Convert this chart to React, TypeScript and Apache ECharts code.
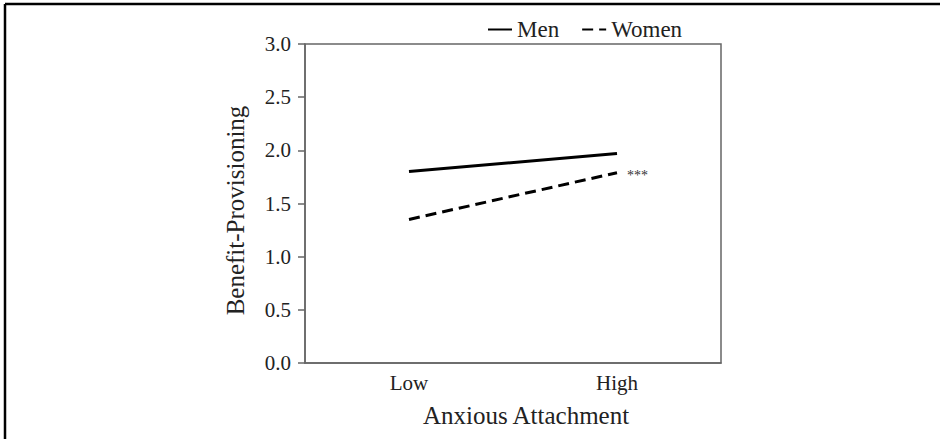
import React, { useEffect, useRef } from "react";
import * as echarts from "echarts";

const categories = ["Low", "High"];
const menValues = [1.8, 1.97];
const womenValues = [1.35, 1.79];
const seriesNames = ["Men", "Women"];
const yTicks = { min: 0, max: 3, interval: 0.5 };
const significance = "***";

const FONT = "'Liberation Serif', 'Times New Roman', serif";

export default function App() {
  const ref = useRef<HTMLDivElement>(null);
  useEffect(() => {
    document.body.style.margin = "0";
    const chart = echarts.init(ref.current!, null, { renderer: "svg" });
    chart.setOption({
      animation: false,
      backgroundColor: "#fff",
      textStyle: { fontFamily: FONT },
      graphic: [
        { type: "line", shape: { x1: 5, y1: 4, x2: 940, y2: 4 }, style: { stroke: "#000", lineWidth: 2.5 } },
        { type: "line", shape: { x1: 5, y1: 4, x2: 5, y2: 439 }, style: { stroke: "#000", lineWidth: 2.5 } },
      ],
      legend: {
        left: 482,
        top: 13,
        itemWidth: 24,
        itemHeight: 14,
        itemGap: 22,
        itemStyle: { opacity: 0 },
        textStyle: { fontFamily: FONT, fontSize: 23, color: "#222" },
        data: seriesNames,
      },
      grid: {
        left: 305,
        top: 44,
        right: 219,
        bottom: 76,
        show: true,
        borderColor: "#666",
        borderWidth: 1.5,
        containLabel: false,
      },
      xAxis: {
        type: "category",
        data: categories,
        boundaryGap: true,
        axisTick: { show: false },
        axisLine: { lineStyle: { color: "#666", width: 1.5 } },
        axisLabel: { fontFamily: FONT, fontSize: 21, color: "#222", margin: 9 },
        name: "Anxious Attachment",
        nameLocation: "middle",
        nameGap: 40,
        nameTextStyle: { fontFamily: FONT, fontSize: 25, color: "#222", padding: [0, 0, 0, 26] },
      },
      yAxis: {
        type: "value",
        min: yTicks.min,
        max: yTicks.max,
        interval: yTicks.interval,
        splitLine: { show: false },
        axisLine: { show: true, lineStyle: { color: "#666", width: 1.5 } },
        axisTick: { show: true, length: 7, lineStyle: { color: "#666", width: 1.5 } },
        axisLabel: {
          fontFamily: FONT,
          fontSize: 21,
          color: "#222",
          margin: 14,
          formatter: (v: number) => v.toFixed(1),
        },
        name: "Benefit-Provisioning",
        nameLocation: "middle",
        nameGap: 57,
        nameTextStyle: { fontFamily: FONT, fontSize: 25, color: "#222", padding: [0, 14, 0, 0] },
      },
      series: [
        {
          name: seriesNames[0],
          type: "line",
          data: menValues,
          symbol: "none",
          lineStyle: { color: "#000", width: 3, type: "solid" },
          itemStyle: { color: "#000" },
        },
        {
          name: seriesNames[1],
          type: "line",
          data: womenValues,
          symbol: "none",
          lineStyle: { color: "#000", width: 3, type: [11, 6] },
          itemStyle: { color: "#000" },
          endLabel: {
            show: true,
            formatter: significance,
            distance: 10,
            offset: [0, 3],
            fontFamily: FONT,
            fontSize: 14,
            color: "#333",
          },
        },
      ],
    });
    return () => chart.dispose();
  }, []);
  return <div ref={ref} style={{ position: "absolute", left: 0, top: 0, width: 940, height: 439 }} />;
}
